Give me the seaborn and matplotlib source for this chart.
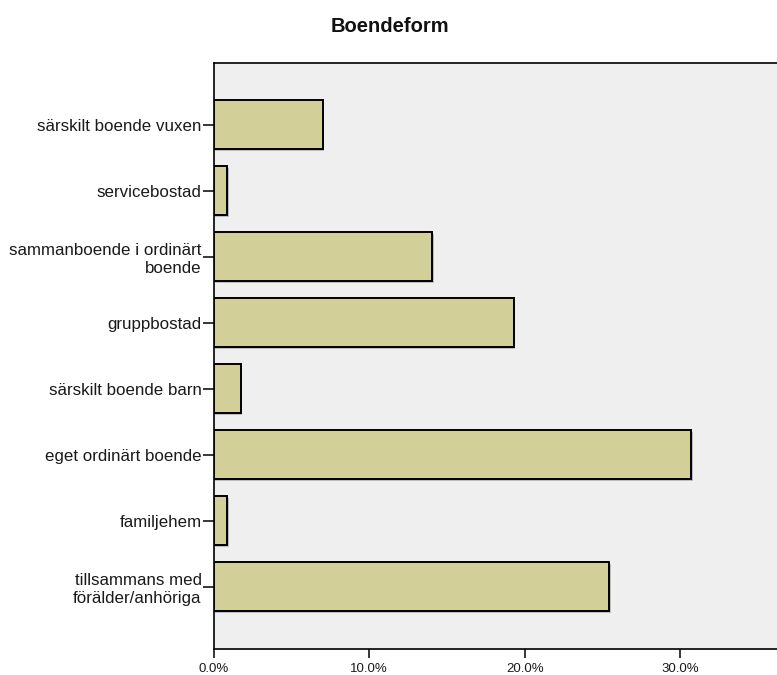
import matplotlib
matplotlib.use("Agg")
import matplotlib.pyplot as plt
import matplotlib.patheffects as pe
import seaborn as sns
import pandas as pd
from matplotlib.ticker import FuncFormatter

categories = [
    "särskilt boende vuxen",
    "servicebostad",
    "sammanboende i ordinärt\nboende",
    "gruppbostad",
    "särskilt boende barn",
    "eget ordinärt boende",
    "familjehem",
    "tillsammans med\nförälder/anhöriga",
]
percent = [7.02, 0.88, 14.04, 19.30, 1.75, 30.70, 0.88, 25.44]
x_ticks = [0, 10, 20, 30]

sns.set_theme(style="white")
plt.rcParams['font.family'] = ['Liberation Sans', 'DejaVu Sans']

df = pd.DataFrame({"Boendeform": categories, "Procent": percent})

fig = plt.figure(figsize=(7.77, 6.75), dpi=100)
W, H = 777, 675
left, right, top, bottom = 213.5, 777, 62.5, 649
ax = fig.add_axes([left / W, 1 - bottom / H, (right - left) / W, (bottom - top) / H])
ax.set_facecolor("#EFEFEF")

sns.barplot(data=df, y="Boendeform", x="Procent", orient="h", order=categories,
            color="#D3CF99", saturation=1, edgecolor="black", linewidth=1.4,
            width=0.74, ax=ax, zorder=3)
for patch in ax.patches:
    patch.set_path_effects([pe.SimplePatchShadow(offset=(1.2, -1.2), shadow_rgbFace="#9a9a9a", alpha=0.6),
                            pe.Normal()])

ax.set_xlim(0, (right - left) / 15.56)
ax.set_ylim(7.94, -0.94)
ax.set_xticks(x_ticks)
ax.xaxis.set_major_formatter(FuncFormatter(lambda v, p: f"{v:.1f}%"))
ax.set_xlabel("")
ax.set_ylabel("")

for side in ["top", "left", "bottom"]:
    ax.spines[side].set_visible(True)
    ax.spines[side].set_color("black")
    ax.spines[side].set_linewidth(1.2)
ax.spines["right"].set_visible(False)

ax.tick_params(axis="y", which="major", left=True, length=8, width=1.1,
               color="black", pad=0.5, labelsize=12.2, labelcolor="#1a1a1a")
ax.tick_params(axis="x", which="major", bottom=True, length=6.5, width=1.1,
               color="black", pad=3.5, labelsize=9.5, labelcolor="#1a1a1a")

fig.text(390 / W, 1 - 27 / H, "Boendeform", ha="center", va="center",
         fontsize=14.5, fontweight="bold", color="#111111")

fig.savefig("out.png", dpi=100)
